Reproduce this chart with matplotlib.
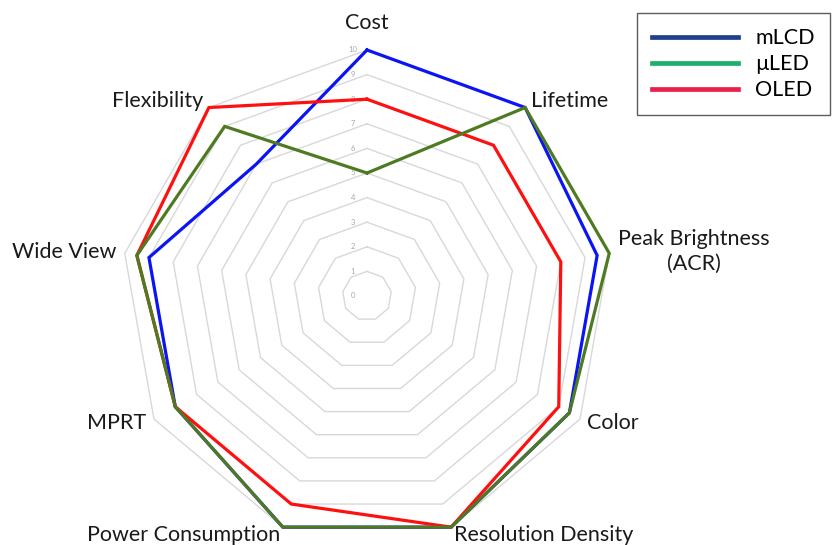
import numpy as np
import matplotlib
matplotlib.use("Agg")
import matplotlib.pyplot as plt
from matplotlib.lines import Line2D
from matplotlib.transforms import offset_copy

plt.rcParams['font.family'] = ['Lato', 'DejaVu Sans']

categories = ["Cost", "Lifetime", "Peak Brightness\n(ACR)", "Color",
              "Resolution Density", "Power Consumption", "MPRT",
              "Wide View", "Flexibility"]
mlcd = [10, 10, 9.5, 9.5, 10, 10, 9, 9, 7]
uled = [5, 10, 10, 9.5, 10, 10, 9, 9.5, 9]
oled = [8, 8, 8, 9, 10, 9, 9, 9.5, 10]
levels = list(range(0, 11))
series_names = ["mLCD", "\u00b5LED", "OLED"]
line_colors = ["#0A14F5", "#4E7A22", "#FF1010"]
legend_colors = ["#1F3F8F", "#1DB06A", "#E8204A"]

W, H = 832, 545
fig = plt.figure(figsize=(W / 100, H / 100), dpi=100)
cx, cy, R = 367, 296, 246
ax = fig.add_axes([(cx - R) / W, (H - cy - R) / H, 2 * R / W, 2 * R / H],
                  projection='polar')
ax.set_theta_zero_location('N')
ax.set_theta_direction(-1)
ax.set_ylim(0, 10)
ax.set_frame_on(False)
ax.grid(False)
ax.set_xticks([])
ax.set_yticks([])
ax.patch.set_alpha(0)

n = len(categories)
angles = np.arange(n) * 2 * np.pi / n
ang_closed = np.append(angles, angles[0])

# polygon grid
for lv in levels[1:]:
    ax.plot(ang_closed, [lv] * (n + 1), color="#D8D8DC", lw=1.0, zorder=1,
            clip_on=False)

# radial tick labels
tr = offset_copy(ax.transData, fig=fig, x=-10, y=0, units='points')
for lv in levels:
    ax.text(0, lv, str(lv), transform=tr, fontsize=5.5, color="#A8A8A8",
            ha='center', va='center', zorder=2)

# series (draw order: mLCD, OLED, µLED on top)
order = [0, 2, 1]
data = [mlcd, uled, oled]
for i in order:
    vals = np.append(data[i], data[i][0])
    ax.plot(ang_closed, vals, color=line_colors[i], lw=2.3, zorder=3 + order.index(i),
            clip_on=False, solid_joinstyle='miter')

# category labels
fs = 15.5
lab_r = 10.35
for k, (a, lab) in enumerate(zip(angles, categories)):
    deg = np.degrees(a)
    if k == 0:
        ax.text(a, 11.1, lab, ha='center', va='center', fontsize=fs,
                color="#1A1A1A")
    elif deg < 180:
        ax.text(a, lab_r, lab, ha='left', va='center', fontsize=fs,
                multialignment='center', linespacing=1.3, color="#1A1A1A")
    else:
        ax.text(a, lab_r, lab, ha='right', va='center', fontsize=fs,
                multialignment='center', linespacing=1.3, color="#1A1A1A")

handles = [Line2D([0], [0], color=c, lw=3.4) for c in legend_colors]
leg = fig.legend(handles, series_names, loc='upper right',
                 bbox_to_anchor=(830 / W, 1 - 13 / H), fontsize=fs,
                 frameon=True, fancybox=False, edgecolor='#333333',
                 handlelength=4.0, handletextpad=0.8, labelspacing=0.28,
                 borderpad=0.7, borderaxespad=0)
leg.get_frame().set_linewidth(1.0)

fig.savefig("out.png", dpi=100)
